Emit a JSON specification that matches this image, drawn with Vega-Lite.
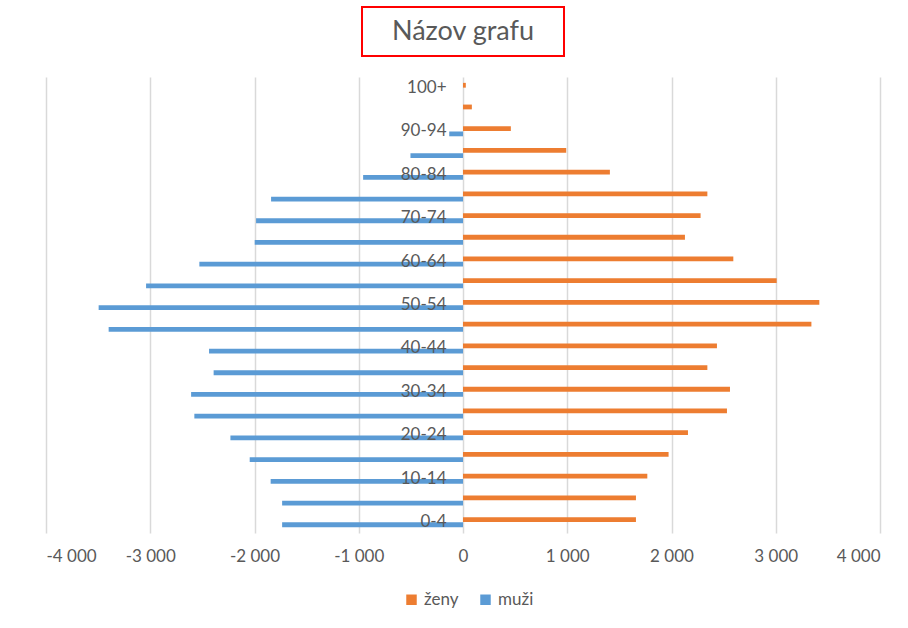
{
  "$schema": "https://vega.github.io/schema/vega-lite/v6.json",
  "padding": {"left": 46, "top": 6, "right": 5, "bottom": 5},
  "background": "white",
  "config": {
    "font": "Lato",
    "view": {"stroke": null},
    "locale": {"number": {"decimal": ",", "thousands": " ", "grouping": [3], "currency": ["", " €"], "minus": "-"}}
  },
  "vconcat": [
    {
      "width": 202,
      "height": 49,
      "view": {"stroke": "#FF0000", "strokeWidth": 2},
      "data": {"values": [{"t": "Názov grafu"}]},
      "mark": {"type": "text", "font": "Lato", "fontSize": 27, "color": "#595959"},
      "encoding": {"text": {"field": "t"}}
    },
    {
      "width": 834,
      "height": 456,
      "data": {"values": [
        {"vek": "0-4", "pohlavie": "ženy", "pocet": 1659},
        {"vek": "5-9", "pohlavie": "ženy", "pocet": 1659},
        {"vek": "10-14", "pohlavie": "ženy", "pocet": 1768},
        {"vek": "15-19", "pohlavie": "ženy", "pocet": 1972},
        {"vek": "20-24", "pohlavie": "ženy", "pocet": 2158},
        {"vek": "25-29", "pohlavie": "ženy", "pocet": 2532},
        {"vek": "30-34", "pohlavie": "ženy", "pocet": 2561},
        {"vek": "35-39", "pohlavie": "ženy", "pocet": 2344},
        {"vek": "40-44", "pohlavie": "ženy", "pocet": 2436},
        {"vek": "45-49", "pohlavie": "ženy", "pocet": 3342},
        {"vek": "50-54", "pohlavie": "ženy", "pocet": 3418},
        {"vek": "55-59", "pohlavie": "ženy", "pocet": 3009},
        {"vek": "60-64", "pohlavie": "ženy", "pocet": 2593},
        {"vek": "65-69", "pohlavie": "ženy", "pocet": 2129},
        {"vek": "70-74", "pohlavie": "ženy", "pocet": 2279},
        {"vek": "75-79", "pohlavie": "ženy", "pocet": 2344},
        {"vek": "80-84", "pohlavie": "ženy", "pocet": 1409},
        {"vek": "85-89", "pohlavie": "ženy", "pocet": 990},
        {"vek": "90-94", "pohlavie": "ženy", "pocet": 459},
        {"vek": "95-99", "pohlavie": "ženy", "pocet": 85},
        {"vek": "100+", "pohlavie": "ženy", "pocet": 27},
        {"vek": "0-4", "pohlavie": "muži", "pocet": -1735},
        {"vek": "5-9", "pohlavie": "muži", "pocet": -1735},
        {"vek": "10-14", "pohlavie": "muži", "pocet": -1845},
        {"vek": "15-19", "pohlavie": "muži", "pocet": -2046},
        {"vek": "20-24", "pohlavie": "muži", "pocet": -2231},
        {"vek": "25-29", "pohlavie": "muži", "pocet": -2577},
        {"vek": "30-34", "pohlavie": "muži", "pocet": -2608},
        {"vek": "35-39", "pohlavie": "muži", "pocet": -2392},
        {"vek": "40-44", "pohlavie": "muži", "pocet": -2436},
        {"vek": "45-49", "pohlavie": "muži", "pocet": -3399},
        {"vek": "50-54", "pohlavie": "muži", "pocet": -3495},
        {"vek": "55-59", "pohlavie": "muži", "pocet": -3040},
        {"vek": "60-64", "pohlavie": "muži", "pocet": -2529},
        {"vek": "65-69", "pohlavie": "muži", "pocet": -1998},
        {"vek": "70-74", "pohlavie": "muži", "pocet": -1985},
        {"vek": "75-79", "pohlavie": "muži", "pocet": -1841},
        {"vek": "80-84", "pohlavie": "muži", "pocet": -958},
        {"vek": "85-89", "pohlavie": "muži", "pocet": -504},
        {"vek": "90-94", "pohlavie": "muži", "pocet": -132},
        {"vek": "95-99", "pohlavie": "muži", "pocet": 0},
        {"vek": "100+", "pohlavie": "muži", "pocet": 0}
      ]},
      "mark": {"type": "bar"},
      "encoding": {
        "y": {
          "field": "vek",
          "type": "nominal",
          "sort": ["100+", "95-99", "90-94", "85-89", "80-84", "75-79", "70-74", "65-69", "60-64", "55-59", "50-54", "45-49", "40-44", "35-39", "30-34", "25-29", "20-24", "15-19", "10-14", "5-9", "0-4"],
          "scale": {"paddingInner": 0.54, "paddingOuter": 0.27},
          "axis": {
            "title": null,
            "values": ["100+", "90-94", "80-84", "70-74", "60-64", "50-54", "40-44", "30-34", "20-24", "10-14", "0-4"],
            "offset": -417,
            "domain": false,
            "ticks": false,
            "tickSize": 0,
            "labelPadding": 17,
            "labelFont": "Lato",
            "labelFontSize": 17,
            "labelColor": "#595959",
            "zindex": 1
          }
        },
        "yOffset": {
          "field": "pohlavie",
          "type": "nominal",
          "sort": ["ženy", "muži"],
          "scale": {"paddingInner": 0.08}
        },
        "x": {
          "field": "pocet",
          "type": "quantitative",
          "scale": {"domain": [-4000, 4000], "nice": false},
          "axis": {
            "title": null,
            "values": [-4000, -3000, -2000, -1000, 0, 1000, 2000, 3000, 4000],
            "format": ",d",
            "domain": false,
            "ticks": false,
            "labelPadding": 15,
            "labelFont": "Lato",
            "labelFontSize": 17,
            "labelColor": "#595959",
            "gridColor": "#d9d9d9",
            "gridWidth": 1.5
          }
        },
        "color": {
          "field": "pohlavie",
          "type": "nominal",
          "scale": {"domain": ["ženy", "muži"], "range": ["#ED7D31", "#5B9BD5"]},
          "legend": {
            "title": null,
            "orient": "none",
            "legendX": 357,
            "legendY": 584,
            "direction": "horizontal",
            "symbolType": "square",
            "symbolSize": 110,
            "symbolStrokeWidth": 0,
            "labelFont": "Lato",
            "labelFontSize": 17,
            "labelColor": "#595959",
            "columnPadding": 18,
            "labelOffset": 4
          }
        }
      }
    }
  ],
  "spacing": 21,
  "center": true,
  "bounds": "flush"
}
